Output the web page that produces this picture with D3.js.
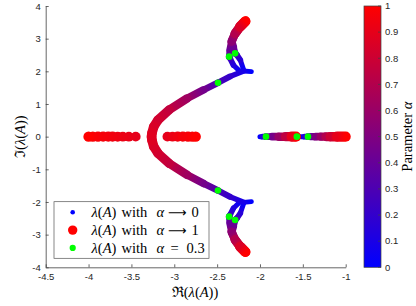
<!DOCTYPE html>
<html>
<head>
<meta charset="utf-8">
<script src="https://cdn.jsdelivr.net/npm/d3@7"></script>
<style>
  body { margin: 0; background: #fff; }
  text { font-family: "Liberation Sans", Arial, sans-serif; }
  .math { font-family: "Liberation Serif", "DejaVu Serif", serif; }
</style>
</head>
<body>
<div id="chart"></div>
<script>
// Autovalores: [parte real, parte imaginária, alpha] (metade superior, a inferior é o conjugado)
const parabola = [
  [-2.10, 1.99, 0.00],
  [-2.19, 2.01, 0.08],
  [-2.35, 1.84, 0.20],
  [-2.49, 1.65, 0.30],
  [-2.66, 1.43, 0.45],
  [-2.85, 1.17, 0.62],
  [-3.06, 0.82, 0.76],
  [-3.19, 0.51, 0.82],
  [-3.24, 0.30, 0.85],
  [-3.26, 0.11, 0.87],
  [-3.265, 0.00, 0.88]
];
const arcOuter = [
  [-2.23, 1.99, 0.00],
  [-2.31, 2.19, 0.12],
  [-2.35, 2.40, 0.24],
  [-2.36, 2.45, 0.30],
  [-2.35, 2.65, 0.40],
  [-2.33, 2.91, 0.55],
  [-2.29, 3.16, 0.70],
  [-2.23, 3.37, 0.85],
  [-2.17, 3.53, 1.00]
];
const arcInner = [
  [-2.19, 2.04, 0.00],
  [-2.23, 2.35, 0.15],
  [-2.27, 2.50, 0.25],
  [-2.29, 2.55, 0.30],
  [-2.31, 2.75, 0.42],
  [-2.33, 2.93, 0.55],
  [-2.29, 3.16, 0.70],
  [-2.23, 3.37, 0.85],
  [-2.17, 3.53, 1.00]
];
// Autovalores reais: [parte real, alpha]
const realE1 = [[-2.00, 0.00], [-1.97, 0.15], [-1.93, 0.30], [-1.86, 0.45], [-1.78, 0.60], [-1.70, 0.75], [-1.63, 0.90], [-1.58, 1.00]];
const realE2 = [[-1.54, 0.00], [-1.56, 0.15], [-1.57, 0.30], [-1.58, 0.60], [-1.59, 1.00]];
const realE3 = [[-1.52, 0.00], [-1.48, 0.15], [-1.44, 0.30], [-1.40, 0.40], [-1.35, 0.50], [-1.29, 0.60], [-1.23, 0.70], [-1.18, 0.80], [-1.10, 0.90], [-1.00, 1.00]];
// depois da colisão no eixo real (pontos separados)
const splitLeft = [[-3.45, 0.90], [-3.53, 0.91], [-3.60, 0.92], [-3.66, 0.93], [-3.72, 0.94], [-3.77, 0.95], [-3.83, 0.96], [-3.89, 0.97], [-3.95, 0.98], [-4.00, 1.00]];
const splitRight = [[-3.08, 0.90], [-3.02, 0.92], [-2.96, 0.94], [-2.90, 0.96], [-2.84, 0.97], [-2.79, 0.98], [-2.75, 1.00]];
// alpha = 0.3
const green03 = [[-2.49, 1.65], [-2.36, 2.45], [-2.29, 2.55], [-1.93, 0], [-1.57, 0], [-1.44, 0]];

const xTicks = [-4.5, -4, -3.5, -3, -2.5, -2, -1.5, -1];
const yTicks = [-4, -3, -2, -1, 0, 1, 2, 3, 4];
const cbTicks = [0, 0.1, 0.2, 0.3, 0.4, 0.5, 0.6, 0.7, 0.8, 0.9, 1];
const legendRel = ["⟶", "⟶", "="];
const legendVal = ["0", "1", "0.3"];

const svg = d3.select("#chart").append("svg")
  .attr("width", 416)
  .attr("height", 306);

const x = d3.scaleLinear().domain([-4.5, -1]).range([45.7, 345.7]);
const y = d3.scaleLinear().domain([-4, 4]).range([267.3, 6]);
const col = d3.scaleLinear().domain([0, 1]).range(["#0000ff", "#ff0000"]);
const rad = d3.scaleLinear().domain([0, 1]).range([2.3, 5.2]);

// ramos completos (conjugados incluídos)
const branches = [parabola, arcOuter, arcInner]
  .flatMap(b => [b, b.map(([re, im, a]) => [re, -im, a])])
  .concat([realE1, realE2, realE3].map(b => b.map(([re, a]) => [re, 0, a])));

const segs = [];
branches.forEach(b => {
  for (let i = 0; i < b.length - 1; i++) {
    segs.push({ p0: b[i], p1: b[i + 1], a: (b[i][2] + b[i + 1][2]) / 2 });
  }
});
segs.sort((s, t) => s.a - t.a);

const defs = svg.append("defs");
segs.forEach((s, i) => {
  const g = defs.append("linearGradient")
    .attr("id", "seg" + i)
    .attr("gradientUnits", "userSpaceOnUse")
    .attr("x1", x(s.p0[0])).attr("y1", y(s.p0[1]))
    .attr("x2", x(s.p1[0])).attr("y2", y(s.p1[1]));
  g.append("stop").attr("offset", 0).attr("stop-color", col(s.p0[2]));
  g.append("stop").attr("offset", 1).attr("stop-color", col(s.p1[2]));
});

const cbGrad = defs.append("linearGradient").attr("id", "cbGrad")
  .attr("x1", 0).attr("y1", 1).attr("x2", 0).attr("y2", 0);
cbGrad.append("stop").attr("offset", 0).attr("stop-color", col(0));
cbGrad.append("stop").attr("offset", 1).attr("stop-color", col(1));

// Eixos
const axisColor = "#404040";
const gx = svg.append("g")
  .attr("transform", `translate(0,${y(-4)})`)
  .call(d3.axisBottom(x).tickValues(xTicks).tickSizeInner(-3).tickSizeOuter(0).tickPadding(6).tickFormat(d => String(d)));
const gy = svg.append("g")
  .attr("transform", `translate(${x(-4.5)},0)`)
  .call(d3.axisLeft(y).tickValues(yTicks).tickSizeInner(-3).tickSizeOuter(0).tickPadding(5).tickFormat(d => String(d)));
[gx, gy].forEach(g => {
  g.select(".domain").attr("stroke", axisColor).attr("stroke-width", 0.8);
  g.selectAll(".tick line").attr("stroke", axisColor).attr("stroke-width", 0.8);
  g.selectAll(".tick text").attr("fill", "#262626").style("font-size", "9.5px");
});

// Ramos contínuos
svg.append("g").selectAll("line")
  .data(segs)
  .join("line")
  .attr("x1", d => x(d.p0[0])).attr("y1", d => y(d.p0[1]))
  .attr("x2", d => x(d.p1[0])).attr("y2", d => y(d.p1[1]))
  .attr("stroke", (d, i) => `url(#seg${i})`)
  .attr("stroke-width", d => 2 * rad(d.a))
  .attr("stroke-linecap", "round");

// Pontos reais depois da colisão
svg.append("g").selectAll("circle")
  .data(splitLeft.concat(splitRight))
  .join("circle")
  .attr("cx", d => x(d[0]))
  .attr("cy", y(0))
  .attr("r", d => rad(d[1]))
  .attr("fill", d => col(d[1]));

// alpha = 0.3
const greens = green03.concat(green03.filter(d => d[1] !== 0).map(d => [d[0], -d[1]]));
svg.append("g").selectAll("circle")
  .data(greens)
  .join("circle")
  .attr("cx", d => x(d[0]))
  .attr("cy", d => y(d[1]))
  .attr("r", 3.3)
  .attr("fill", "#00ff00");

// Legenda
const lg = svg.append("g");
lg.append("rect")
  .attr("x", 54).attr("y", 201.7)
  .attr("width", 155).attr("height", 56.6)
  .attr("fill", "#fff")
  .attr("stroke", "#555")
  .attr("stroke-width", 0.7);
const legendMarks = [
  { c: col(0), r: 2.3 },
  { c: col(1), r: 4.7 },
  { c: "#00ff00", r: 3.1 }
];
legendVal.forEach((v, i) => {
  const cy = 212.3 + i * 17.8;
  const base = cy + 4.7;
  lg.append("circle").attr("cx", 72.7).attr("cy", cy).attr("r", legendMarks[i].r).attr("fill", legendMarks[i].c);
  const t = lg.append("text").attr("class", "math")
    .attr("y", base)
    .style("font-size", "14.5px").attr("fill", "#000");
  t.append("tspan").attr("x", 91.5).style("font-style", "italic").text("λ");
  t.append("tspan").text("(");
  t.append("tspan").style("font-style", "italic").text("A");
  t.append("tspan").text(")");
  t.append("tspan").attr("x", 121.5).text("with");
  t.append("tspan").attr("x", 156.5).style("font-style", "italic").text("α");
  if (legendRel[i] === "=") {
    t.append("tspan").attr("x", 170.5).text("=");
    t.append("tspan").attr("x", 186.5).text(v);
  } else {
    t.append("tspan").attr("x", 168).style("font-family", "DejaVu Sans").style("font-size", "13px").text(legendRel[i]);
    t.append("tspan").attr("x", 191.5).text(v);
  }
});

// Barra de cores
const cb = d3.scaleLinear().domain([0, 1]).range([267.3, 6]);
svg.append("rect")
  .attr("x", 364).attr("y", cb(1))
  .attr("width", 17).attr("height", cb(0) - cb(1))
  .attr("fill", "url(#cbGrad)")
  .attr("stroke", axisColor).attr("stroke-width", 0.7);
svg.append("g").selectAll("line")
  .data(cbTicks)
  .join("line")
  .attr("x1", 381).attr("x2", 378)
  .attr("y1", d => cb(d)).attr("y2", d => cb(d))
  .attr("stroke", axisColor).attr("stroke-width", 0.7);
svg.append("g").selectAll("text")
  .data(cbTicks)
  .join("text")
  .attr("x", 385)
  .attr("y", d => cb(d))
  .attr("dy", "0.35em")
  .attr("fill", "#262626")
  .style("font-size", "9.5px")
  .text(d => String(d));

// Rótulos dos eixos
const xl = svg.append("text").attr("class", "math")
  .attr("x", 195).attr("y", 297)
  .attr("text-anchor", "middle")
  .style("font-size", "14.5px");
[["ℜ", 0], ["(", 0], ["λ", 1], ["(", 0], ["A", 1], ["))", 0]].forEach(([s, it]) => xl.append("tspan").style("font-style", it ? "italic" : "normal").text(s));

const yl = svg.append("text").attr("class", "math")
  .attr("transform", `translate(25,${y(0)}) rotate(-90)`)
  .attr("text-anchor", "middle")
  .style("font-size", "14.5px");
[["ℑ", 0], ["(", 0], ["λ", 1], ["(", 0], ["A", 1], ["))", 0]].forEach(([s, it]) => yl.append("tspan").style("font-style", it ? "italic" : "normal").text(s));

const cl = svg.append("text").attr("class", "math")
  .attr("transform", `translate(412,${y(0)}) rotate(-90)`)
  .attr("text-anchor", "middle")
  .style("font-size", "14.5px");
[["Parameter ", 0], ["α", 1]].forEach(([s, it]) => cl.append("tspan").style("font-style", it ? "italic" : "normal").text(s));
</script>
</body>
</html>
